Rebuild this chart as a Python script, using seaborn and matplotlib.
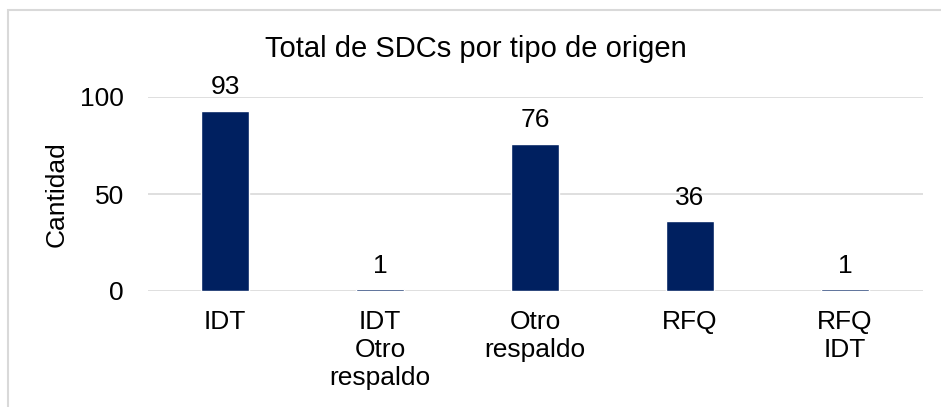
import matplotlib
matplotlib.use("Agg")
import matplotlib.pyplot as plt
import seaborn as sns
import pandas as pd
from matplotlib.patches import Rectangle

# data
categories = ["IDT", "IDT\nOtro\nrespaldo", "Otro\nrespaldo", "RFQ", "RFQ\nIDT"]
values = [93, 1, 76, 36, 1]
yticks = [0, 50, 100]

df = pd.DataFrame({"origen": categories, "cantidad": values})

sns.set_theme(style="white")
plt.rcParams["font.family"] = ["Liberation Sans", "DejaVu Sans"]
plt.rcParams["text.color"] = "black"

W, H = 941, 407
fig = plt.figure(figsize=(W / 100, H / 100), dpi=100)
ax = fig.add_axes([147.5 / W, 1 - 291 / H, 775 / W, (291 - 97) / H])

sns.barplot(data=df, x="origen", y="cantidad", color="#002060",
            width=0.31, saturation=1, ax=ax, zorder=3)

ax.set_ylim(0, 100)
ax.set_xlim(-0.5, 4.5)
ax.set_yticks(yticks)
ax.yaxis.grid(True, color="#d9d9d9", linewidth=1.2, zorder=0)
ax.set_axisbelow(True)
for s in ax.spines.values():
    s.set_visible(False)
ax.tick_params(axis="x", length=0, pad=14, labelsize=19, labelcolor="black")
ax.tick_params(axis="y", length=0, pad=17, labelsize=19, labelcolor="black")
ax.set_xlabel("")
ax.set_ylabel("")

for c in ax.containers:
    ax.bar_label(c, labels=[str(v) for v in values], padding=8,
                 fontsize=19, color="black")

fig.text(57 / W, 1 - 194 / H, "Cantidad", rotation=90, ha="center",
         va="center", fontsize=19, color="black")
fig.text(476 / W, 1 - 49 / H, "Total de SDCs por tipo de origen",
         ha="center", va="center", fontsize=21, color="black")

# chart frame (runs off the bottom and right of the image)
fig.patches.append(Rectangle((8 / W, -0.2), 1.2, 1.2 - 10 / H,
                             transform=fig.transFigure, fill=False,
                             edgecolor="#d9d9d9", linewidth=1.5))

fig.savefig("out.png", dpi=100)
